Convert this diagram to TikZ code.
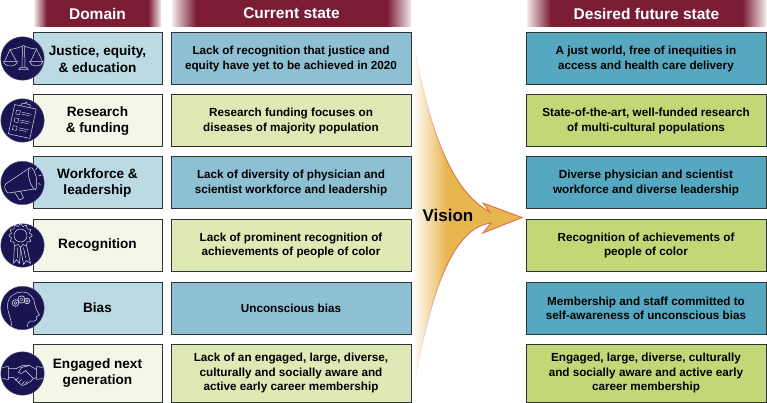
\documentclass[tikz,border=0pt]{standalone}
\usepackage{fontspec}
\setmainfont{Liberation Sans}
\usetikzlibrary{fadings}
\definecolor{headred}{HTML}{7B1C35}
\definecolor{dombluefill}{HTML}{BBDAE4}
\definecolor{domcreamfill}{HTML}{F4F6E8}
\definecolor{curbluefill}{HTML}{8EBFD2}
\definecolor{curgreenfill}{HTML}{DEE9B5}
\definecolor{futbluefill}{HTML}{55A8BF}
\definecolor{futgreenfill}{HTML}{C2D876}
\definecolor{boxline}{HTML}{2E3338}
\definecolor{iconnavy}{HTML}{1A1450}
\definecolor{iconline}{HTML}{DCDCEE}
\definecolor{visionfill}{HTML}{E8B64E}
\definecolor{visionline}{HTML}{D8704E}
\pgfdeclarehorizontalshading{headfade}{100bp}{
  color(0bp)=(white); color(25bp)=(white!90!headred); color(30bp)=(headred);
  color(70bp)=(headred); color(75bp)=(white!90!headred); color(100bp)=(white)}
\tikzfading[name=visionfade, left color=transparent!0, right color=transparent!100]
\tikzset{
  head/.style={shading=headfade, text=white, inner sep=0pt, outer sep=0pt, minimum height=27pt, font=\fontsize{15.5}{17}\selectfont\bfseries},
  cell/.style={draw=boxline, line width=1pt, inner sep=0pt, outer sep=0pt, minimum height=52pt, align=center, font=\fontsize{11.7}{14.2}\selectfont\bfseries},
  dom/.style={cell, minimum width=129pt, font=\fontsize{13.6}{16.5}\selectfont\bfseries},
  cur/.style={cell, minimum width=240pt},
  fut/.style={cell, minimum width=240pt},
  disc/.style={circle, fill=iconnavy, draw=iconnavy!70!white, line width=0.4pt, inner sep=0pt, outer sep=0pt, minimum size=43.5pt},
  glyph/.style={draw=iconline, line width=0.5pt, line join=round, line cap=round}
}
\begin{document}
\begin{tikzpicture}[x=1pt,y=-1pt]
  \useasboundingbox (0,0) rectangle (767,403);
  % headers
  \node[head, minimum width=127pt] (headdom) at (97.5,13.5) {Domain};
  \node[head, minimum width=239pt] (headcur) at (291.5,13.5) {Current state};
  \node[head, minimum width=239pt] (headfut) at (646.5,13.5) {Desired future state};
  % domain column
  \node[dom, fill=dombluefill] (domjust) at (97.5,59) {Justice, equity,\\\& education};
  \node[dom, fill=domcreamfill] (domres) at (97.5,121) {Research\\\& funding};
  \node[dom, fill=dombluefill] (domwork) at (97.5,183) {Workforce \&\\leadership};
  \node[dom, fill=domcreamfill] (domrec) at (97.5,245.5) {Recognition};
  \node[dom, fill=dombluefill] (dombias) at (97.5,308) {Bias};
  \node[dom, fill=domcreamfill, minimum height=58pt] (domnext) at (97.5,373) {Engaged next\\generation};
  % current state column
  \node[cur, fill=curbluefill] (curjust) at (291,59) {Lack of recognition that justice and\\equity have yet to be achieved in 2020};
  \node[cur, fill=curgreenfill] (curres) at (291,121) {Research funding focuses on\\diseases of majority population};
  \node[cur, fill=curbluefill] (curwork) at (291,183) {Lack of diversity of physician and\\scientist workforce and leadership};
  \node[cur, fill=curgreenfill] (currec) at (291,245.5) {Lack of prominent recognition of\\achievements of people of color};
  \node[cur, fill=curbluefill] (curbias) at (291,308) {Unconscious bias};
  \node[cur, fill=curgreenfill, minimum height=58pt] (curnext) at (291,373) {Lack of an engaged, large, diverse,\\culturally and socially aware and\\active early career membership};
  % future state column
  \node[fut, fill=futbluefill] (futjust) at (646,59) {A just world, free of inequities in\\access and health care delivery};
  \node[fut, fill=futgreenfill] (futres) at (646,121) {State-of-the-art, well-funded research\\of multi-cultural populations};
  \node[fut, fill=futbluefill] (futwork) at (646,183) {Diverse physician and scientist\\workforce and diverse leadership};
  \node[fut, fill=futgreenfill] (futrec) at (646,245.5) {Recognition of achievements of\\people of color};
  \node[fut, fill=futbluefill] (futbias) at (646,308) {Membership and staff committed to\\self-awareness of unconscious bias};
  \node[fut, fill=futgreenfill, minimum height=58pt] (futnext) at (646,373) {Engaged, large, diverse, culturally\\and socially aware and active early\\career membership};
  % vision arrow
  \coordinate (vtop) at (414,46);
  \coordinate (vupper) at (490,212);
  \coordinate (vbarbup) at (483,203);
  \coordinate (vtip) at (522,217.5);
  \coordinate (vbarblow) at (483,233);
  \coordinate (vlower) at (491,223);
  \coordinate (vbot) at (415,380);
  \draw[draw=visionline, fill=visionfill, line width=0.9pt, line join=miter]
    (vtop) .. controls (428,120) and (448,190) .. (vupper) -- (vbarbup) -- (vtip)
    -- (vbarblow) -- (vlower) .. controls (450,228) and (430,300) .. (vbot);
  \fill[white, path fading=visionfade] (412.5,40) rectangle (447,385);
  \node[font=\fontsize{17}{19}\selectfont\bfseries, inner sep=0pt] (vision) at (448,215.5) {Vision};
  % scales
  \node[disc] (iconjust) at (22.5,58.5) {};
  \begin{scope}[shift={(iconjust.center)}]
    \draw[glyph] (-12.5,-9) .. controls (-6,-10) and (-3,-11) .. (1,-13) .. controls (5,-11) and (8,-10) .. (14,-9.5);
    \draw[glyph] (0,-12) -- (-0.5,9) (2,-12) -- (2.5,9) (-4,11) -- (6,11) -- (4,9) -- (-2,9) -- cycle;
    \draw[glyph] (-12.5,-9) -- (-18,3) (-12.5,-9) -- (-6,3) (-19,3) -- (-5,3) .. controls (-6,9) and (-18,9) .. (-19,3);
    \draw[glyph] (14,-9.5) -- (8,3) (14,-9.5) -- (20,3) (7,3) -- (20.5,3) .. controls (20,9) and (8,9) .. (7,3);
  \end{scope}
  % clipboard
  \node[disc] (iconres) at (22.5,120.5) {};
  \begin{scope}[shift={(iconres.center)}, rotate=-12]
    \draw[glyph] (-11,-14) rectangle (11,16);
    \draw[glyph] (-5,-14) -- (-4,-17) -- (-1,-17) -- (0,-19) -- (1,-17) -- (4,-17) -- (5,-14);
    \foreach \rowy in {-7,1,9} {
      \draw[glyph, line width=0.4pt] (-8,\rowy-2) rectangle (-4,\rowy+2);
      \draw[glyph, line width=0.4pt] (-2,\rowy-1) -- (8,\rowy-1) (-2,\rowy+1) -- (6,\rowy+1);
    }
  \end{scope}
  % megaphone
  \node[disc] (iconwork) at (22.5,183) {};
  \begin{scope}[shift={(iconwork.center)}]
    \draw[glyph] (7,-15) -- (-17,1) .. controls (-19,4) and (-17,9) .. (-14,10) -- (12,6);
    \draw[glyph] (7,-15) .. controls (10,-18) and (14,-8) .. (14,-3) .. controls (14,2) and (14,9) .. (12,6);
    \draw[glyph] (7,-15) .. controls (4,-10) and (8,4) .. (12,6);
    \draw[glyph] (-8,9) -- (-3,17) -- (1,15) -- (-2,8);
    \draw[glyph] (13,-13) -- (15,-16) (16,-7) -- (19,-8) (16,0) -- (18,2);
  \end{scope}
  % rosette
  \node[disc] (iconrec) at (22.5,245.5) {};
  \begin{scope}[shift={(iconrec.center)}]
    \draw[glyph] (-2,-10) circle[radius=6.5];
    \draw[glyph] plot[smooth cycle, samples=49, domain=0:352.5]
      ({-2+(10.5+1.3*cos(12*\x))*cos(\x)}, {-10+(10.5+1.3*cos(12*\x))*sin(\x)});
    \draw[glyph] (-8,0) -- (-9,18) -- (-6,14) -- (-3,18) -- (-2,2);
    \draw[glyph] (-2,2) -- (1,19) -- (4,15) -- (8,18) -- (4,0);
    \draw[glyph] (-5,2) -- (-5,12) (1,2) -- (3,12);
  \end{scope}
  % head with gears
  \node[disc] (iconbias) at (22.5,308) {};
  \begin{scope}[shift={(iconbias.center)}]
    \draw[glyph] (-11,18) .. controls (-11,10) and (-15,5) .. (-15,-2) .. controls (-15,-12) and (-7,-16) .. (0,-16)
      .. controls (8,-16) and (12,-9) .. (12.5,-3) .. controls (13,1) and (16,5) .. (17,7) -- (14,8.5)
      .. controls (15,12) and (13,14) .. (8,13) .. controls (6,13) and (5,16) .. (4.5,19);
    \foreach \gearx/\geary/\gearr in {-7/-5/3.4,-1/-8.5/3.6,4.5/-7/2.8} {
      \draw[glyph, densely dotted, line width=0.9pt] (\gearx,\geary) circle[radius=\gearr];
      \draw[glyph, line width=0.4pt] (\gearx,\geary) circle[radius=\gearr*0.45];
    }
  \end{scope}
  % handshake
  \node[disc] (iconnext) at (22.5,373.5) {};
  \begin{scope}[shift={(iconnext.center)}]
    \draw[glyph] (-20,-6) -- (-14,-7) -- (-14,6) -- (-20,5);
    \draw[glyph] (20,-6) -- (14,-7) -- (14,6) -- (20,5);
    \draw[glyph] (-14,-5) -- (-6,-5) -- (0,-8) -- (7,-8) -- (14,-4);
    \draw[glyph] (7,-8) -- (-1,-6) -- (-4,-1) -- (-1,0) -- (3,-3) -- (11,5) -- (14,4);
    \draw[glyph] (-14,4) -- (-9,4) -- (-3,10) -- (0,12) -- (3,11) -- (8,8) -- (11,5);
    \draw[glyph, line width=0.4pt] (-7,7) -- (-4,4) (-4,9) -- (-1,6) (-1,11) -- (2,8) (3,10) -- (5,8);
  \end{scope}
\end{tikzpicture}
\end{document}
